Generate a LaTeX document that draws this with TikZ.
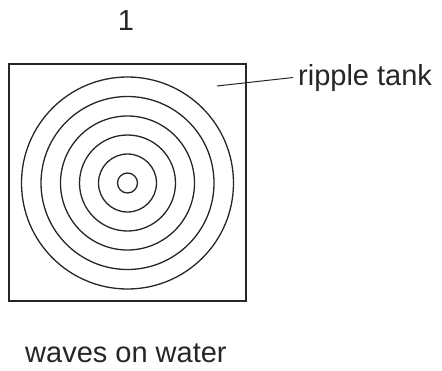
\documentclass[tikz,border=0pt]{standalone}
\usepackage{fontspec}
\setmainfont{Liberation Sans}
\usetikzlibrary{positioning}

\tikzset{
  lbl/.style={font=\fontsize{29}{35}\selectfont, text=black!85, inner sep=0pt},
  wave/.style={line width=1.3pt, black!85},
}

\begin{document}
\begin{tikzpicture}[x=1pt, y=-1pt]
    \useasboundingbox (0,0) rectangle (442,370);

    % --- Title ---
    \node[lbl, anchor=base] (num) at (126,30) {1};

    % --- Tank ---
    \draw[line width=2pt, black!85] (9,64) rectangle (246,301);
    \coordinate (src) at (127.5,183);

    % --- Ripples ---
    \foreach \r in {10,29,48,67,86.5,106}
        \draw[wave] (src) circle (\r);

    % --- Label and leader ---
    \node[lbl, anchor=base west, inner xsep=5pt] (tank) at (293,85) {ripple tank};
    \coordinate (tip) at (217,86);
    \draw[line width=1pt, black!85] (tip) -- (tank.west);

    % --- Caption ---
    \node[lbl, anchor=base west] (cap) at (25,362) {waves on water};
\end{tikzpicture}
\end{document}
